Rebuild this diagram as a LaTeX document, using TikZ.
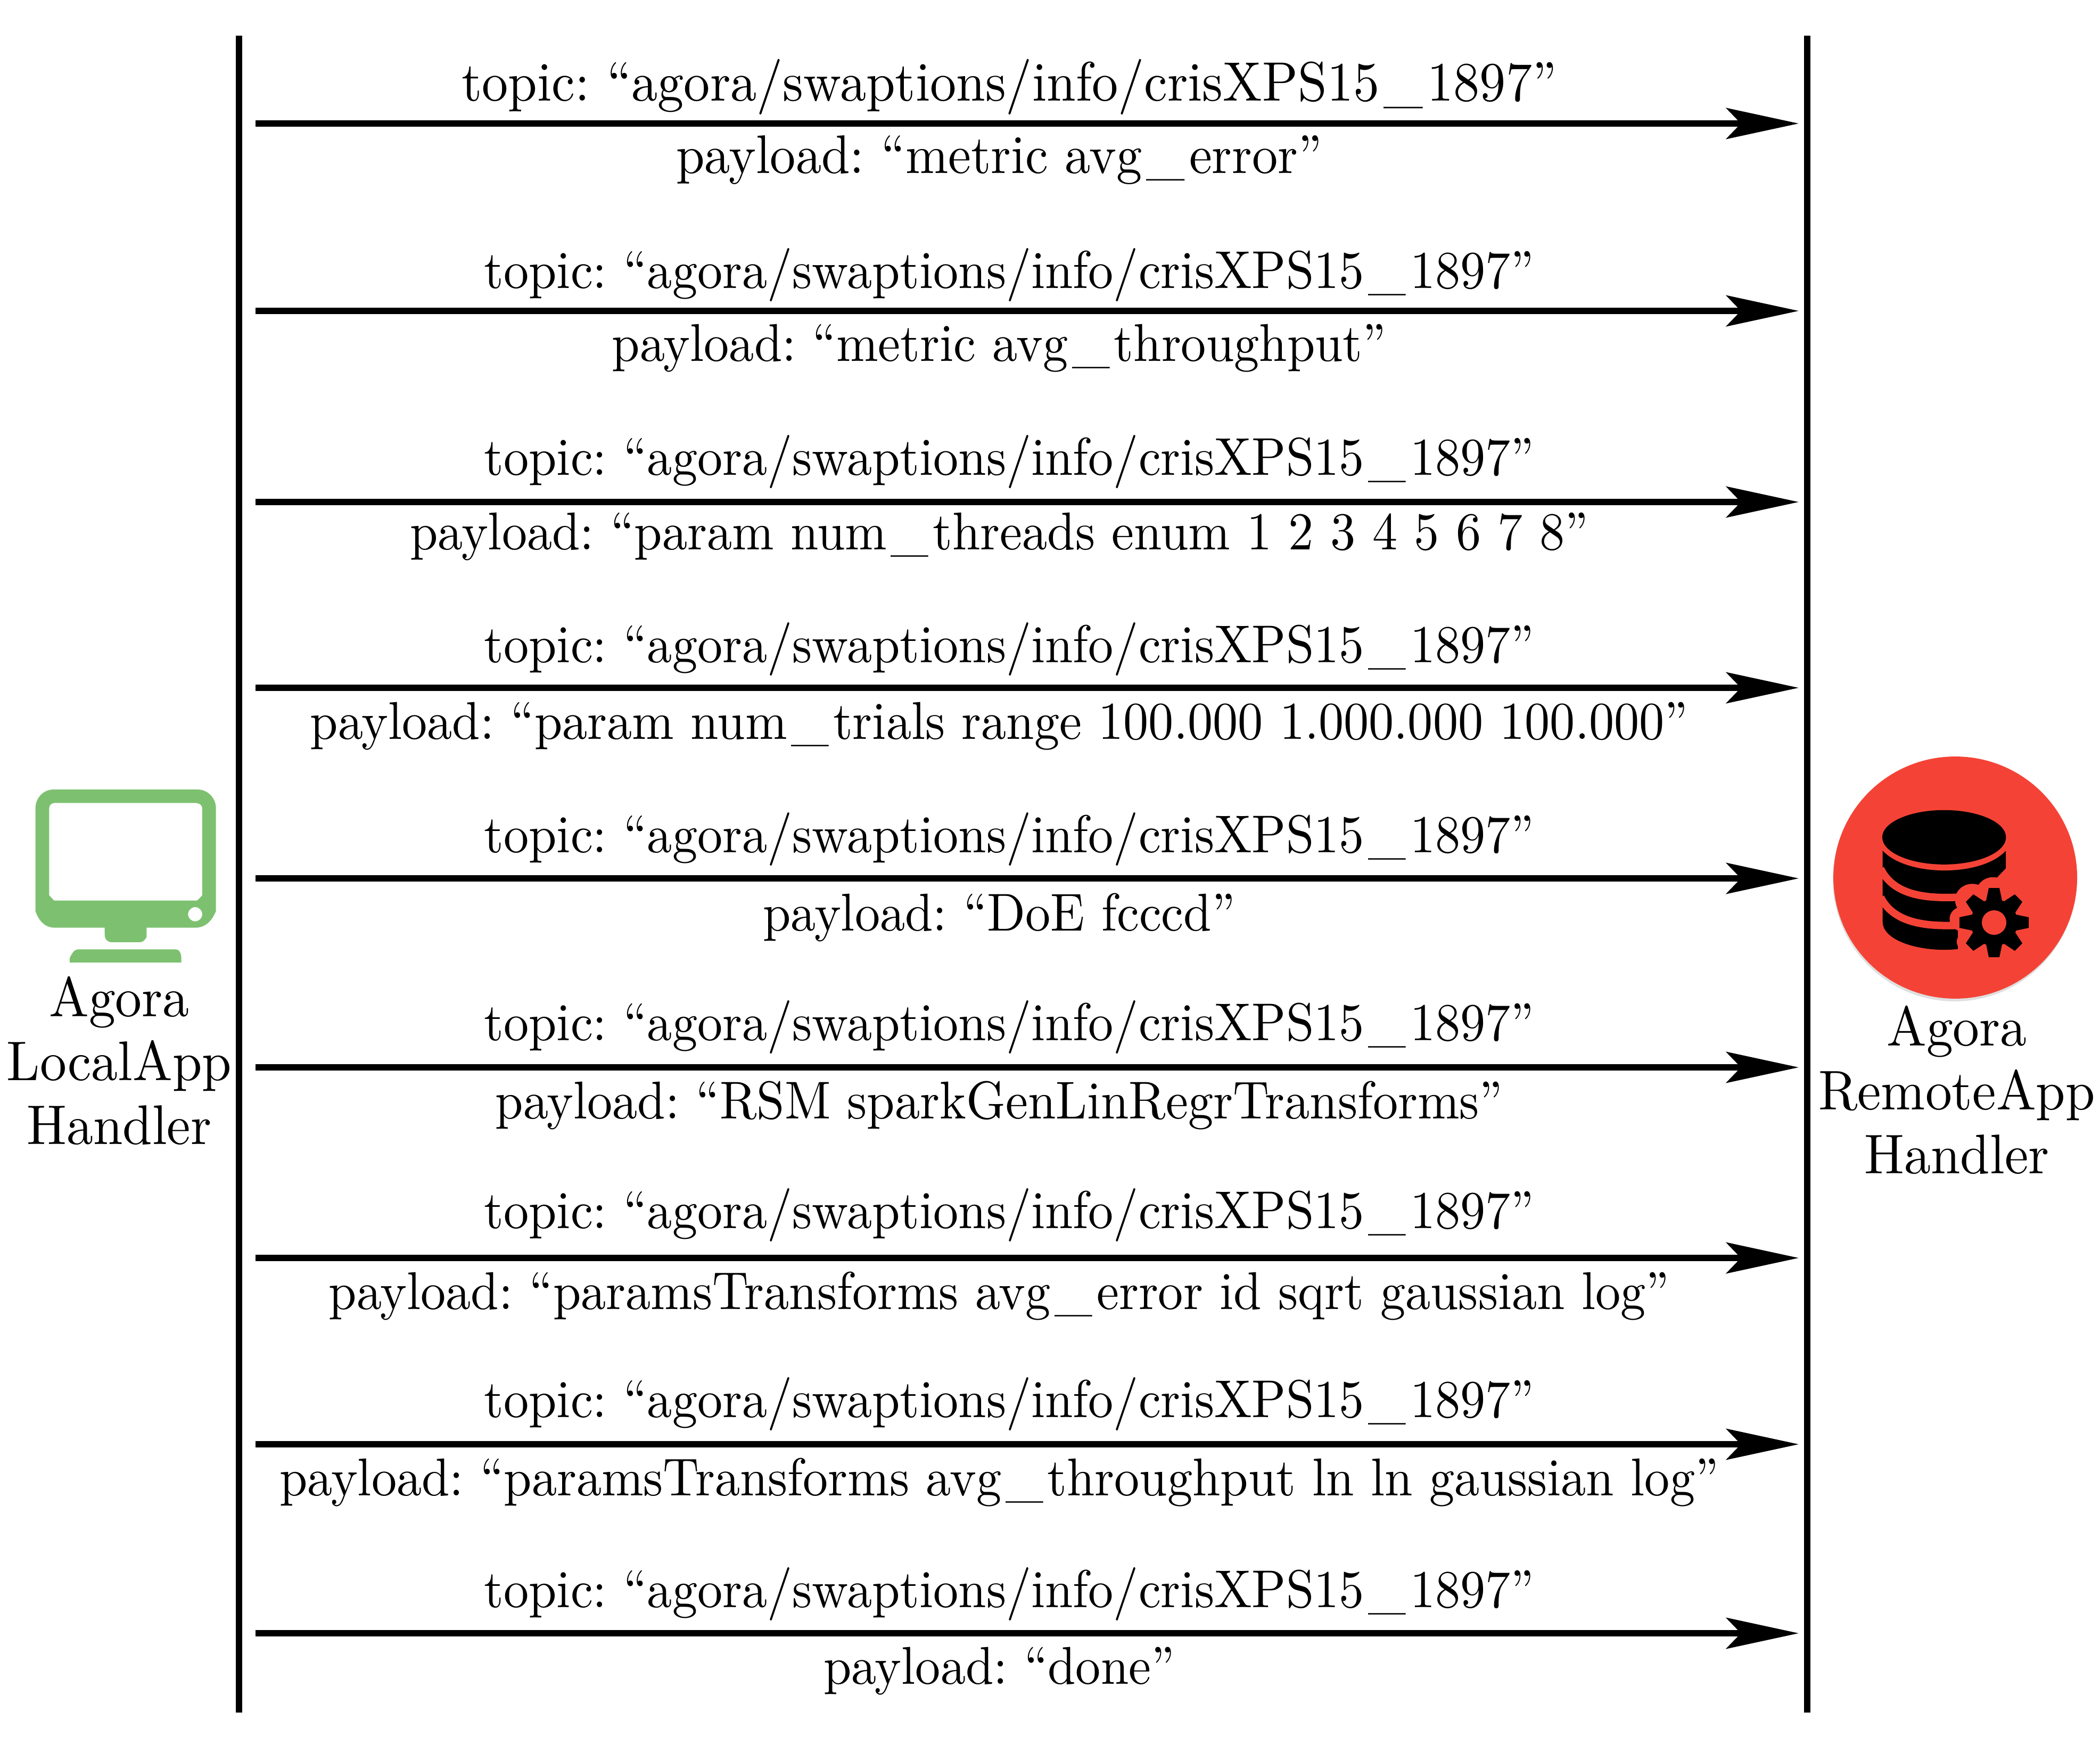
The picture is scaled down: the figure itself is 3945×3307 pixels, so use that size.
\documentclass[tikz,border=0pt]{standalone}
\usetikzlibrary{arrows.meta}
\definecolor{monitorgreen}{HTML}{7DC170}
\definecolor{dbred}{HTML}{F44336}
\font\lblfont="[lmroman10-regular]:+tlig;extend=0.9425;" at 20pt
\font\firstfont="[lmroman10-regular]:+tlig;extend=0.9425;" at 20.86pt
\font\firstpayfont="[lmroman10-regular]:+tlig;extend=0.9425;" at 20.44pt
\font\sidefont="[lmroman10-regular]:+tlig;extend=0.95;" at 21pt
\newcommand{\usc}{\kern.08em\_\kern.08em}
\newcommand{\topicText}{topic: “agora/swaptions/info/crisXPS15\usc 1897”}
\tikzset{
  lifeline/.style={line width=2.4pt},
  msg/.style={line width=2.4pt,-{Stealth[length=27.2pt,width=11.6pt,inset=5.5pt]}},
  lbl/.style={anchor=base,inner sep=0pt,font=\frenchspacing\lblfont},
  firstlbl/.style={lbl,font=\frenchspacing\firstfont},
  sidelbl/.style={align=center,inner sep=0pt,font=\fontsize{20}{24}\selectfont\sidefont},
}
\begin{document}
\begin{tikzpicture}[x=0.2pt,y=-0.2pt]
\useasboundingbox (0,0) rectangle (3945,3307);
% lifelines
\coordinate (ltop) at (449,67);
\coordinate (lbot) at (449,3217);
\coordinate (rtop) at (3395,67);
\coordinate (rbot) at (3395,3217);
\draw[lifeline] (ltop) -- (lbot);
\draw[lifeline] (rtop) -- (rbot);
% messages
\foreach \n/\y/\ty/\py/\s/\t/\p in {
 1/232/189/325/firstlbl/{\topicText}/{\firstpayfont payload: “metric avg\usc error”},
 2/584/541/678/lbl/{\topicText}/{payload: “metric avg\usc throughput”},
 3/943/892/1032/lbl/{\topicText}/{payload: “param num\usc threads enum 1 2 3 4 5 6 7 8”},
 4/1292/1244/1388/lbl/{\topicText}/{payload: “param num\usc trials range 100.000 1.000.000 100.000”},
 5/1650/1601/1748/lbl/{\topicText}/{payload: “DoE fcccd”},
 6/2005/1954/2101/lbl/{\topicText}/{payload: “RSM sparkGenLinRegrTransforms”},
 7/2363/2307/2459/lbl/{\topicText}/{payload: “paramsTransforms avg\usc error id sqrt gaussian log”},
 8/2713/2662/2809/lbl/{\topicText}/{payload: “paramsTransforms avg\usc throughput ln ln gaussian log”},
 9/3068/3019/3163/lbl/{\topicText}/{payload: “done”}}{
  \coordinate (s\n) at (480,\y);
  \coordinate (e\n) at (3379,\y);
  \draw[msg] (s\n) -- (e\n);
  \node[\s] (t\n) at (1896,\ty) {\t};
  \node[\s] (p\n) at (1877,\py) {\p};
}
% monitor icon
\begin{scope}[shift={(0,1420)},xscale=0.3333,yscale=0.478]
  \fill[monitorgreen,even odd rule]
    (300,132) -- (1115,132) .. controls (1170,132) and (1217,165) .. (1217,205)
    -- (1217,610) .. controls (1190,655) and (1150,675) .. (1100,675)
    -- (826,675) -- (826,712) .. controls (815,725) and (805,732) .. (790,732)
    -- (630,732) .. controls (605,732) and (590,720) .. (590,700) -- (590,675)
    -- (310,675) .. controls (255,675) and (220,650) .. (200,610)
    -- (200,205) .. controls (200,165) and (245,132) .. (300,132) -- cycle
    (305,185) .. controls (290,185) and (277,195) .. (277,205) -- (277,548)
    -- (305,568) -- (1112,568) -- (1140,548) -- (1140,205)
    .. controls (1140,195) and (1125,185) .. (1105,185) -- cycle
    (1140,622) arc[x radius=40,y radius=28,start angle=0,end angle=360];
  \fill[monitorgreen] (393,812) -- (393,795) .. controls (405,775) and (420,760) .. (440,760)
    -- (990,760) .. controls (1010,760) and (1022,775) .. (1022,795) -- (1022,812) -- cycle;
\end{scope}
% database icon
\fill[gray!25] (3672,1652) circle[x radius=229,y radius=229];
\begin{scope}[shift={(3350,1380)},xscale=0.381,yscale=0.357]
  \fill[dbred] (848,752) ellipse[x radius=601,y radius=637];
  \fill[black] (490,600) -- (490,985) .. controls (490,1075) and (640,1132) .. (793,1132)
    .. controls (950,1132) and (1097,1075) .. (1097,985) -- (1097,600) -- cycle;
  \draw[dbred,line width=2.8pt] (480,560) .. controls (560,740) and (1030,740) .. (1107,560);
  \draw[dbred,line width=2.8pt] (480,705) .. controls (560,885) and (800,855) .. (900,855);
  \draw[dbred,line width=2.8pt] (480,855) .. controls (560,1030) and (800,1003) .. (900,1003);
  \fill[black] (793,540) ellipse[x radius=305,y radius=143];
  % halo around the gear
  \fill[dbred] (1046,988) circle[radius=190];
  \fill[dbred] (860,1000) rectangle (1110,1145);
  \fill[dbred] (1000,790) rectangle (1110,1145);
  \fill[dbred] (1060,745) -- (1110,690) -- (1110,800) -- (1020,800) -- cycle;
  \fill[dbred] (1035,835) circle[radius=85];
  \fill[dbred] (932,870) circle[radius=85];
  \fill[dbred] (885,970) circle[radius=65];
  \fill[dbred] (900,1090) circle[radius=45];
\end{scope}
% gear
\foreach \a in {0,45,...,315}{
  \fill[black,rotate around={\a:(3746,1733)}] (3730,1697) -- (3736,1668) -- (3756,1668) -- (3762,1697) -- cycle;
}
\fill[black] (3746,1733) circle[radius=44];
\fill[dbred] (3746,1733) circle[radius=23];
% side labels
\node[sidelbl] (local) at (224,1992) {Agora\\LocalApp\\Handler};
\node[sidelbl] (remote) at (3676,2047) {Agora\\RemoteApp\\Handler};
\end{tikzpicture}
\end{document}
